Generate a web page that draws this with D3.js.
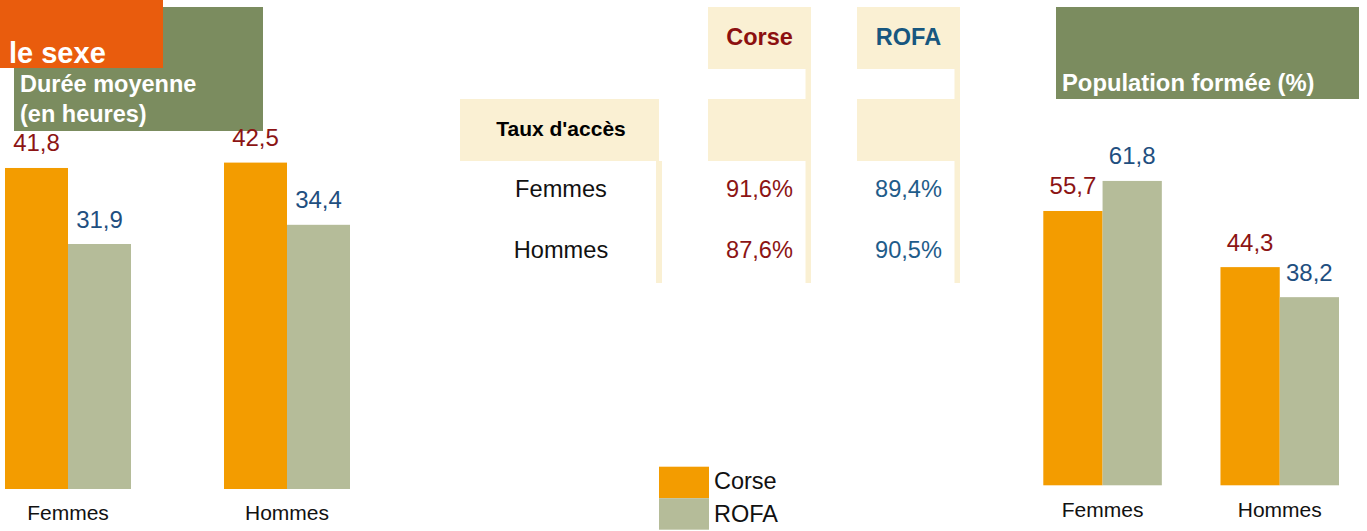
<!DOCTYPE html>
<html>
<head>
<meta charset="utf-8">
<script src="https://cdn.jsdelivr.net/npm/d3@7"></script>
<style>
  html, body { margin: 0; padding: 0; background: #fff; }
  svg { display: block; font-family: "Liberation Sans", Arial, sans-serif; }
</style>
</head>
<body>
<svg id="chart" width="1367" height="531"></svg>
<script>
// ---- Data ----
const categories = ["Femmes", "Hommes"];
const series = ["Corse", "ROFA"];
const dureeCorse = [41.8, 42.5];
const dureeRofa = [31.9, 34.4];
const popCorse = [55.7, 44.3];
const popRofa = [61.8, 38.2];
const tauxCorse = [91.6, 87.6];
const tauxRofa = [89.4, 90.5];
const leftTitle = ["Durée moyenne", "(en heures)"];
const rightTitle = "Population formée (%)";
const bandTitle = "le sexe";
const tableRowHeader = "Taux d'accès";

// ---- Styles ----
const barColor = { Corse: "#F39C00", ROFA: "#B5BC99" };
const labelColor = { Corse: "#8C1414", ROFA: "#1F4F80" };
const headColor = { Corse: "#8C1010", ROFA: "#17577F" };
const cream = "#FAF0D3";

const fr = d3.formatLocale({ decimal: ",", thousands: " ", grouping: [3], currency: ["", "€"] });
const f1 = fr.format(".1f");

const svg = d3.select("#chart");

// ---- Title boxes ----
svg.append("rect").attr("x", 14).attr("y", 7).attr("width", 249).attr("height", 124).attr("fill", "#7B8C5F");
svg.append("rect").attr("x", 0).attr("y", 0).attr("width", 163).attr("height", 68).attr("fill", "#E95C0D");
svg.append("text").attr("x", 9).attr("y", 63).attr("fill", "#fff").attr("font-weight", "bold")
  .attr("font-size", 29).text(bandTitle);
leftTitle.forEach((t, i) => {
  svg.append("text").attr("x", 20).attr("y", 92 + i * 29.5).attr("fill", "#fff").attr("font-weight", "bold")
    .attr("font-size", 23.5).text(t);
});
svg.append("rect").attr("x", 1056).attr("y", 7).attr("width", 303).attr("height", 92).attr("fill", "#7B8C5F");
svg.append("text").attr("x", 1062).attr("y", 91).attr("fill", "#fff").attr("font-weight", "bold")
  .attr("font-size", 23.8).text(rightTitle);

// ---- Grouped bar chart helper ----
function barChart(opts) {
  const { corse, rofa, xRange, pad, yMax, y0, y1, axisPad } = opts;
  const x = d3.scaleBand().domain(categories).range(xRange).paddingInner(pad).paddingOuter(0);
  const xs = d3.scaleBand().domain(series).range([0, x.bandwidth()]).padding(0);
  const y = d3.scaleLinear().domain([0, yMax]).range([y0, y1]);
  const rows = categories.map((c, i) => ({ cat: c, vals: [{ s: "Corse", v: corse[i] }, { s: "ROFA", v: rofa[i] }] }));
  const g = svg.append("g");
  const grp = g.selectAll("g.grp").data(rows).join("g").attr("transform", d => `translate(${x(d.cat)},0)`);
  grp.selectAll("rect").data(d => d.vals).join("rect")
    .attr("x", d => xs(d.s)).attr("width", xs.bandwidth())
    .attr("y", d => y(d.v)).attr("height", d => y(0) - y(d.v))
    .attr("fill", d => barColor[d.s]);
  grp.selectAll("text").data(d => d.vals).join("text")
    .attr("x", d => xs(d.s) + xs.bandwidth() / 2)
    .attr("y", d => y(d.v) - 16.5)
    .attr("text-anchor", "middle").attr("font-size", 24)
    .attr("fill", d => labelColor[d.s])
    .text(d => f1(d.v));
  const ax = g.append("g").attr("transform", `translate(0,${y(0)})`)
    .call(d3.axisBottom(x).tickSize(0).tickPadding(axisPad));
  ax.select(".domain").remove();
  ax.selectAll("text").attr("font-size", 21).attr("fill", "#111")
    .attr("font-family", "'Liberation Sans', Arial, sans-serif");
}

barChart({ corse: dureeCorse, rofa: dureeRofa, xRange: [5, 350], pad: 0.4247, yMax: 50, y0: 489, y1: 489 - 7.68 * 50, axisPad: 16.1 });
barChart({ corse: popCorse, rofa: popRofa, xRange: [1043.3, 1339], pad: 0.331, yMax: 70, y0: 485.3, y1: 485.3 - 4.925 * 70, axisPad: 16.8 });

// ---- Table ----
const tg = svg.append("g");
const colX = d3.scaleBand().domain(series).range([708, 960]).paddingInner(0.3087).paddingOuter(0);
const rowY = d3.scalePoint().domain(categories).range([197, 258]);
const strip = 5.5;
series.forEach(s => {
  const x0 = colX(s), w = colX.bandwidth();
  tg.append("rect").attr("x", x0).attr("y", 7).attr("width", w).attr("height", 62).attr("fill", cream);
  tg.append("rect").attr("x", x0).attr("y", 99).attr("width", w).attr("height", 62).attr("fill", cream);
  tg.append("rect").attr("x", x0 + w - strip).attr("y", 69).attr("width", strip).attr("height", 214).attr("fill", cream);
  tg.append("text").attr("x", x0 + w / 2).attr("y", 45).attr("text-anchor", "middle")
    .attr("font-weight", "bold").attr("font-size", 23.5).attr("fill", headColor[s]).text(s);
});
tg.append("rect").attr("x", 460).attr("y", 99).attr("width", 199).attr("height", 62).attr("fill", cream);
tg.append("rect").attr("x", 656).attr("y", 161).attr("width", 6).attr("height", 122).attr("fill", cream);
tg.append("text").attr("x", 561).attr("y", 136).attr("text-anchor", "middle")
  .attr("font-weight", "bold").attr("font-size", 21).attr("fill", "#000").text(tableRowHeader);

categories.forEach((c, i) => {
  tg.append("text").attr("x", 561).attr("y", rowY(c)).attr("text-anchor", "middle")
    .attr("font-size", 23.6).attr("fill", "#111").text(c);
  [["Corse", tauxCorse[i]], ["ROFA", tauxRofa[i]]].forEach(([s, v]) => {
    tg.append("text").attr("x", colX(s) + colX.bandwidth() / 2).attr("y", rowY(c))
      .attr("text-anchor", "middle").attr("font-size", 23.6)
      .attr("fill", s === "Corse" ? "#8C1414" : "#1F5C8A").text(f1(v) + "%");
  });
});

// ---- Legend ----
const lg = svg.append("g");
series.forEach((s, i) => {
  lg.append("rect").attr("x", 659).attr("y", 466.7 + i * 31.5).attr("width", 50).attr("height", 31.5).attr("fill", barColor[s]);
  lg.append("text").attr("x", 714).attr("y", 489.3 + i * 32.3).attr("font-size", 23.5).attr("fill", "#111").text(s);
});
</script>
</body>
</html>
